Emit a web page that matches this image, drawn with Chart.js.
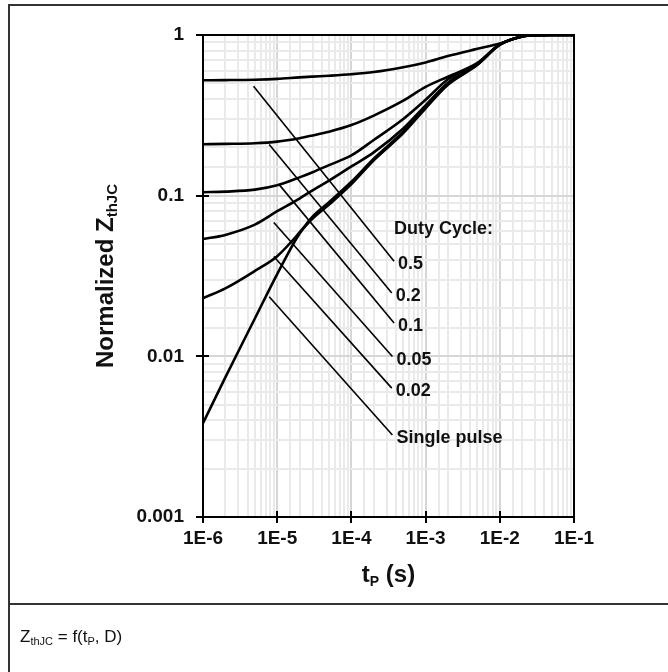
<!DOCTYPE html>
<html>
<head>
<meta charset="utf-8">
<script src="https://cdn.jsdelivr.net/npm/chart.js@4.4.1/dist/chart.umd.min.js"></script>
<style>
  body { margin: 0; background: #fff; }
  #wrap { position: relative; width: 668px; height: 672px; overflow: hidden; }
  #chart { position: absolute; left: 0; top: 0; }
  #frame { position: absolute; left: 8px; top: 4px; width: 700px; height: 700px;
           border-top: 2px solid #333; border-left: 2px solid #333; }
  #divider { position: absolute; left: 8px; top: 603px; width: 700px; height: 2px; background: #333; }
  #caption { position: absolute; left: 20px; top: 627px; font: 17px "Liberation Sans", Arial, sans-serif; color: #111; }
  #caption sub { font-size: 11px; vertical-align: baseline; position: relative; top: 3px; }
</style>
</head>
<body>
<div id="wrap">
  <canvas id="chart" width="668" height="672"></canvas>
  <div id="frame"></div>
  <div id="divider"></div>
  <div id="caption">Z<sub>thJC</sub> = f(t<sub>P</sub>, D)</div>
</div>
<script>
// pulse width (s)
const tp = [1e-6, 2e-6, 5e-6, 1e-5, 2e-5, 3e-5, 5e-5, 1e-4, 2e-4, 5e-4, 1e-3, 2e-3, 5e-3, 1e-2, 2e-2, 3e-2, 5e-2, 1e-1];

// normalized Zth per duty cycle
const zD50    = [0.523, 0.524, 0.527, 0.533, 0.545, 0.551, 0.558, 0.570, 0.588, 0.630, 0.675, 0.740, 0.820, 0.885, 0.980, 0.997, 1, 1];
const zD20    = [0.209, 0.210, 0.212, 0.217, 0.228, 0.237, 0.250, 0.275, 0.315, 0.390, 0.475, 0.550, 0.670, 0.874, 0.980, 0.997, 1, 1];
const zD10    = [0.105, 0.106, 0.109, 0.116, 0.130, 0.140, 0.155, 0.178, 0.222, 0.300, 0.395, 0.530, 0.665, 0.873, 0.980, 0.997, 1, 1];
const zD05    = [0.0537, 0.0570, 0.066, 0.080, 0.096, 0.108, 0.124, 0.152, 0.186, 0.262, 0.365, 0.505, 0.660, 0.872, 0.980, 0.997, 1, 1];
const zD02    = [0.0230, 0.0265, 0.034, 0.042, 0.059, 0.074, 0.091, 0.122, 0.170, 0.250, 0.355, 0.495, 0.655, 0.872, 0.980, 0.997, 1, 1];
const zSingle = [0.00384, 0.0074, 0.0172, 0.0325, 0.058, 0.072, 0.088, 0.118, 0.166, 0.245, 0.350, 0.490, 0.652, 0.870, 0.980, 0.997, 1, 1];

// leader lines from each curve to its label
const dutyLabels  = ['0.5', '0.2', '0.1', '0.05', '0.02', 'Single pulse'];
const leaderFromT = [4.8e-6, 7.8e-6, 1.05e-5, 9.0e-6, 9.0e-6, 7.8e-6];
const leaderFromZ = [0.48, 0.208, 0.118, 0.068, 0.0418, 0.0235];
const leaderToT   = [3.76e-4, 3.5e-4, 3.76e-4, 3.57e-4, 3.5e-4, 3.57e-4];
const leaderToZ   = [0.039, 0.0248, 0.0161, 0.00997, 0.00634, 0.00324];
const legendTitle = 'Duty Cycle:';
const legendTitleT = 3.76e-4;
const legendTitleZ = 0.0622;

const xTickLabels = ['1E-6', '1E-5', '1E-4', '1E-3', '1E-2', '1E-1'];
const yTickLabels = ['0.001', '0.01', '0.1', '1'];

const FONT = '"Liberation Sans", Arial, sans-serif';

function isDecade(v) {
  const l = Math.log10(v);
  return Math.abs(l - Math.round(l)) < 1e-6;
}

const curves = [zD50, zD20, zD10, zD05, zD02, zSingle].map(vals => ({
  data: tp.map((t, i) => ({ x: t, y: vals[i] })),
  borderColor: '#000',
  borderWidth: 2.6,
  pointRadius: 0,
  cubicInterpolationMode: 'monotone',
  fill: false
}));

const leaders = dutyLabels.map((_, i) => ({
  data: [{ x: leaderFromT[i], y: leaderFromZ[i] }, { x: leaderToT[i], y: leaderToZ[i] }],
  borderColor: '#000',
  borderWidth: 1.6,
  pointRadius: 0,
  tension: 0,
  fill: false
}));

// text pieces with subscripts: [text, size, baseline shift]
function richWidth(ctx, parts) {
  let w = 0;
  parts.forEach(([t, s]) => { ctx.font = `bold ${s}px ${FONT}`; w += ctx.measureText(t).width; });
  return w;
}
function drawRich(ctx, parts, x, y) {
  let cx = x;
  parts.forEach(([t, s, dy]) => {
    ctx.font = `bold ${s}px ${FONT}`;
    ctx.fillText(t, cx, y + dy);
    cx += ctx.measureText(t).width;
  });
}

const annotate = {
  id: 'annotate',
  afterDraw(chart) {
    const { ctx, chartArea: a, scales: { x, y } } = chart;
    ctx.save();
    ctx.strokeStyle = '#000';
    ctx.fillStyle = '#111';

    // box round the plot
    ctx.lineWidth = 2;
    ctx.strokeRect(a.left, a.top, a.right - a.left, a.bottom - a.top);

    // decade tick marks cross the axes
    ctx.beginPath();
    x.ticks.forEach(t => {
      if (!isDecade(t.value)) return;
      const px = Math.round(x.getPixelForValue(t.value));
      ctx.moveTo(px, a.bottom - 6); ctx.lineTo(px, a.bottom + 6);
    });
    y.ticks.forEach(t => {
      if (!isDecade(t.value)) return;
      const py = Math.round(y.getPixelForValue(t.value));
      ctx.moveTo(a.left - 7, py); ctx.lineTo(a.left + 6, py);
    });
    ctx.stroke();

    // duty cycle labels at the leader ends
    ctx.font = `bold 18px ${FONT}`;
    ctx.textAlign = 'left';
    ctx.textBaseline = 'middle';
    ctx.fillText(legendTitle, x.getPixelForValue(legendTitleT), y.getPixelForValue(legendTitleZ));
    dutyLabels.forEach((lab, i) => {
      ctx.fillText(lab, x.getPixelForValue(leaderToT[i]) + 4, y.getPixelForValue(leaderToZ[i]) + 3);
    });

    // axis titles
    ctx.textBaseline = 'alphabetic';
    const yTitle = [['Normalized Z', 24, 0], ['thJC', 15, 4]];
    ctx.save();
    ctx.translate(113, (a.top + a.bottom) / 2);
    ctx.rotate(-Math.PI / 2);
    drawRich(ctx, yTitle, -richWidth(ctx, yTitle) / 2, 0);
    ctx.restore();

    const xTitle = [['t', 24, 0], ['P', 14, 4], [' (s)', 24, 0]];
    drawRich(ctx, xTitle, (a.left + a.right) / 2 - richWidth(ctx, xTitle) / 2, 582);

    ctx.restore();
  }
};

const gridOpts = {
  drawTicks: false,
  color: c => (c.tick && isDecade(c.tick.value)) ? '#d6d6d6' : '#eaeaea',
  lineWidth: 2
};

new Chart(document.getElementById('chart'), {
  type: 'line',
  data: { datasets: [...curves, ...leaders] },
  options: {
    responsive: false,
    animation: false,
    events: [],
    layout: { padding: { left: 0, top: 35, right: 94, bottom: 0 } },
    plugins: { legend: { display: false }, tooltip: { enabled: false } },
    scales: {
      x: {
        type: 'logarithmic',
        min: 1e-6,
        max: 1e-1,
        grid: gridOpts,
        border: { display: false },
        afterFit: s => { s.height = 155; },
        ticks: {
          autoSkip: false,
          maxRotation: 0,
          minRotation: 0,
          padding: 10,
          color: '#111',
          font: { family: FONT, size: 19, weight: 'bold' },
          callback: v => isDecade(v) ? xTickLabels[Math.round(Math.log10(v)) + 6] : ''
        }
      },
      y: {
        type: 'logarithmic',
        min: 1e-3,
        max: 1,
        grid: gridOpts,
        border: { display: false },
        afterFit: s => { s.width = 203; },
        ticks: {
          autoSkip: false,
          padding: 19,
          color: '#111',
          font: { family: FONT, size: 19, weight: 'bold' },
          callback: v => isDecade(v) ? yTickLabels[Math.round(Math.log10(v)) + 3] : ''
        }
      }
    }
  },
  plugins: [annotate]
});
</script>
</body>
</html>
